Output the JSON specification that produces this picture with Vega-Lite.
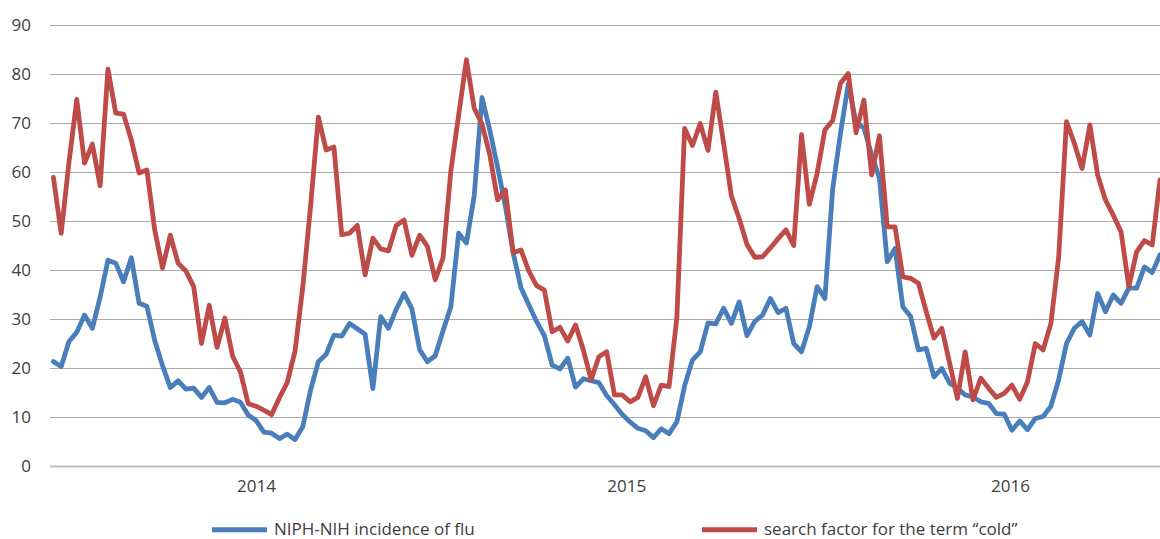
{
 "$schema": "https://vega.github.io/schema/vega-lite/v6.json",
 "width": 1110.5,
 "height": 441,
 "autosize": {"type": "none"},
 "padding": {"left": 49.5, "top": 25, "right": 0, "bottom": 73},
 "background": "white",
 "config": {"view": {"stroke": null}, "font": "Open Sans"},
 "data": {"values": [
  {"i":0,"flu":21.3,"cold":58.9},{"i":1,"flu":20.3,"cold":47.5},{"i":2,"flu":25.4,"cold":62.0},{"i":3,"flu":27.3,"cold":74.8},{"i":4,"flu":30.8,"cold":61.8},
  {"i":5,"flu":28.1,"cold":65.7},{"i":6,"flu":34.5,"cold":57.2},{"i":7,"flu":42.0,"cold":81.0},{"i":8,"flu":41.4,"cold":72.0},{"i":9,"flu":37.6,"cold":71.8},
  {"i":10,"flu":42.5,"cold":66.5},{"i":11,"flu":33.2,"cold":59.8},{"i":12,"flu":32.6,"cold":60.4},{"i":13,"flu":25.6,"cold":48.2},{"i":14,"flu":20.5,"cold":40.4},
  {"i":15,"flu":16.0,"cold":47.1},{"i":16,"flu":17.4,"cold":41.4},{"i":17,"flu":15.7,"cold":39.8},{"i":18,"flu":15.9,"cold":36.6},{"i":19,"flu":14.0,"cold":25.0},
  {"i":20,"flu":16.0,"cold":32.8},{"i":21,"flu":13.0,"cold":24.2},{"i":22,"flu":12.9,"cold":30.2},{"i":23,"flu":13.6,"cold":22.4},{"i":24,"flu":13.0,"cold":19.2},
  {"i":25,"flu":10.4,"cold":12.7},{"i":26,"flu":9.3,"cold":12.2},{"i":27,"flu":6.9,"cold":11.4},{"i":28,"flu":6.7,"cold":10.5},{"i":29,"flu":5.6,"cold":13.9},
  {"i":30,"flu":6.5,"cold":17.0},{"i":31,"flu":5.4,"cold":23.4},{"i":32,"flu":8.0,"cold":36.5},{"i":33,"flu":15.5,"cold":53.0},{"i":34,"flu":21.3,"cold":71.2},
  {"i":35,"flu":22.8,"cold":64.5},{"i":36,"flu":26.7,"cold":65.1},{"i":37,"flu":26.5,"cold":47.2},{"i":38,"flu":29.1,"cold":47.5},{"i":39,"flu":28.0,"cold":49.1},
  {"i":40,"flu":26.9,"cold":39.0},{"i":41,"flu":15.8,"cold":46.5},{"i":42,"flu":30.5,"cold":44.3},{"i":43,"flu":28.1,"cold":43.9},{"i":44,"flu":32.0,"cold":49.1},
  {"i":45,"flu":35.2,"cold":50.2},{"i":46,"flu":32.1,"cold":43.0},{"i":47,"flu":23.7,"cold":47.1},{"i":48,"flu":21.3,"cold":44.8},{"i":49,"flu":22.5,"cold":38.0},
  {"i":50,"flu":27.6,"cold":42.5},{"i":51,"flu":32.5,"cold":60.2},{"i":52,"flu":47.5,"cold":71.6},{"i":53,"flu":45.5,"cold":82.9},{"i":54,"flu":55.2,"cold":73.0},
  {"i":55,"flu":75.2,"cold":69.8},{"i":56,"flu":68.5,"cold":63.5},{"i":57,"flu":61.0,"cold":54.3},{"i":58,"flu":53.0,"cold":56.3},{"i":59,"flu":43.5,"cold":43.5},
  {"i":60,"flu":36.4,"cold":44.1},{"i":61,"flu":32.9,"cold":39.8},{"i":62,"flu":29.5,"cold":36.8},{"i":63,"flu":26.6,"cold":35.9},{"i":64,"flu":20.6,"cold":27.4},
  {"i":65,"flu":19.8,"cold":28.3},{"i":66,"flu":22.0,"cold":25.5},{"i":67,"flu":16.1,"cold":28.8},{"i":68,"flu":17.8,"cold":23.7},{"i":69,"flu":17.4,"cold":17.6},
  {"i":70,"flu":17.0,"cold":22.3},{"i":71,"flu":14.4,"cold":23.3},{"i":72,"flu":12.5,"cold":14.5},{"i":73,"flu":10.5,"cold":14.5},{"i":74,"flu":9.0,"cold":13.1},
  {"i":75,"flu":7.7,"cold":14.0},{"i":76,"flu":7.2,"cold":18.2},{"i":77,"flu":5.8,"cold":12.3},{"i":78,"flu":7.6,"cold":16.5},{"i":79,"flu":6.6,"cold":16.2},
  {"i":80,"flu":9.0,"cold":30.2},{"i":81,"flu":16.4,"cold":68.9},{"i":82,"flu":21.6,"cold":65.4},{"i":83,"flu":23.3,"cold":69.9},{"i":84,"flu":29.2,"cold":64.4},
  {"i":85,"flu":29.0,"cold":76.3},{"i":86,"flu":32.2,"cold":65.9},{"i":87,"flu":29.1,"cold":55.1},{"i":88,"flu":33.5,"cold":50.5},{"i":89,"flu":26.6,"cold":45.2},
  {"i":90,"flu":29.5,"cold":42.6},{"i":91,"flu":30.8,"cold":42.7},{"i":92,"flu":34.2,"cold":44.5},{"i":93,"flu":31.3,"cold":46.4},{"i":94,"flu":32.2,"cold":48.2},
  {"i":95,"flu":25.0,"cold":45.0},{"i":96,"flu":23.3,"cold":67.6},{"i":97,"flu":28.4,"cold":53.4},{"i":98,"flu":36.6,"cold":59.7},{"i":99,"flu":34.2,"cold":68.6},
  {"i":100,"flu":56.6,"cold":70.5},{"i":101,"flu":67.9,"cold":78.1},{"i":102,"flu":78.0,"cold":80.1},{"i":103,"flu":70.0,"cold":68.0},{"i":104,"flu":69.0,"cold":74.7},
  {"i":105,"flu":63.5,"cold":59.4},{"i":106,"flu":58.7,"cold":67.4},{"i":107,"flu":41.7,"cold":48.8},{"i":108,"flu":44.4,"cold":48.8},{"i":109,"flu":32.5,"cold":38.6},
  {"i":110,"flu":30.5,"cold":38.3},{"i":111,"flu":23.7,"cold":37.3},{"i":112,"flu":24.0,"cold":31.5},{"i":113,"flu":18.2,"cold":26.1},{"i":114,"flu":19.9,"cold":28.1},
  {"i":115,"flu":16.9,"cold":21.0},{"i":116,"flu":15.9,"cold":13.8},{"i":117,"flu":14.5,"cold":23.3},{"i":118,"flu":14.1,"cold":13.5},{"i":119,"flu":13.1,"cold":17.9},
  {"i":120,"flu":12.8,"cold":15.9},{"i":121,"flu":10.7,"cold":14.0},{"i":122,"flu":10.6,"cold":14.8},{"i":123,"flu":7.3,"cold":16.5},{"i":124,"flu":9.2,"cold":13.6},
  {"i":125,"flu":7.4,"cold":17.2},{"i":126,"flu":9.7,"cold":25.0},{"i":127,"flu":10.1,"cold":23.7},{"i":128,"flu":12.2,"cold":29.1},{"i":129,"flu":17.6,"cold":42.7},
  {"i":130,"flu":25.0,"cold":70.3},{"i":131,"flu":28.1,"cold":65.9},{"i":132,"flu":29.5,"cold":60.7},{"i":133,"flu":26.7,"cold":69.6},{"i":134,"flu":35.2,"cold":59.4},
  {"i":135,"flu":31.5,"cold":54.3},{"i":136,"flu":34.9,"cold":51.2},{"i":137,"flu":33.2,"cold":47.8},{"i":138,"flu":36.3,"cold":36.6},{"i":139,"flu":36.3,"cold":43.7},
  {"i":140,"flu":40.6,"cold":46.0},{"i":141,"flu":39.5,"cold":45.1},{"i":142,"flu":43.1,"cold":58.4}
 ]},
 "transform": [{"fold": ["flu", "cold"], "as": ["series", "value"]}],
 "mark": {"type": "line", "strokeWidth": 4.8, "strokeJoin": "round", "strokeCap": "round", "clip": true},
 "encoding": {
  "x": {"field": "i", "type": "quantitative",
   "scale": {"domain": [-0.5, 142], "nice": false, "zero": false},
   "axis": {"values": [26, 73.5, 122.75],
    "labelExpr": "datum.value < 50 ? '2014' : datum.value < 100 ? '2015' : '2016'",
    "grid": false, "ticks": false, "domain": true, "domainColor": "#BFBFBF", "domainWidth": 2,
    "labelFontSize": 17, "labelColor": "#404040", "labelPadding": 12, "title": null}},
  "y": {"field": "value", "type": "quantitative",
   "scale": {"domain": [0, 90], "nice": false},
   "axis": {"values": [0, 10, 20, 30, 40, 50, 60, 70, 80, 90], "grid": true, "gridColor": "#ABABAB", "gridWidth": 1,
    "domain": false, "ticks": false, "labelFontSize": 17, "labelColor": "#404040", "labelPadding": 19, "title": null}},
  "color": {"field": "series", "type": "nominal",
   "scale": {"domain": ["flu", "cold"], "range": ["#4A7EBB", "#BE4B48"]},
   "legend": {"orient": "none", "legendX": 181.5, "legendY": 496, "direction": "horizontal", "columns": 2,
    "columnPadding": 217, "title": null, "symbolType": "M-5,0H5", "symbolSize": 121, "symbolStrokeWidth": 5,
    "labelFontSize": 17, "labelColor": "#404040", "labelOffset": 26, "labelLimit": 500,
    "labelExpr": "datum.value == 'flu' ? 'NIPH-NIH incidence of flu' : 'search factor for the term “cold”'"}}
 }
}
